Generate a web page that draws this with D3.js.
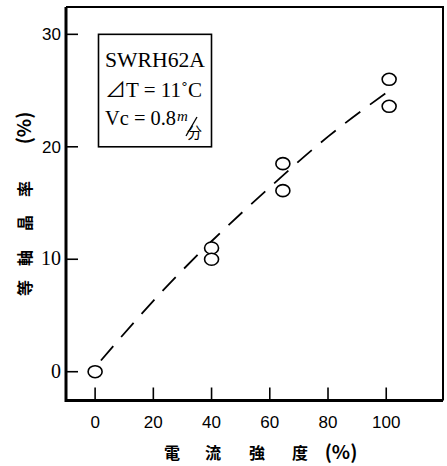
<!DOCTYPE html>
<html>
<head>
<meta charset="utf-8">
<script src="https://cdn.jsdelivr.net/npm/d3@7"></script>
<style>
  html, body { margin: 0; padding: 0; background: #fff; }
  svg { display: block; }
</style>
</head>
<body>
<div id="chart"></div>
<script>
// measured points (電流強度 %, 等軸晶率 %)
var pointX = [0, 40, 40, 64.5, 64.5, 101, 101];
var pointY = [0, 11.0, 10.0, 18.5, 16.1, 26.0, 23.6];

// hand drawn trend line
var curveX = [2, 20, 40, 60, 80, 100];
var curveY = [1, 6.3, 11.6, 16.4, 20.9, 24.8];

var xTicks = [0, 20, 40, 60, 80, 100];
var yTicks = [0, 10, 20, 30];
var xTitle = ["電", "流", "強", "度", "(%)"];
var yTitle = ["等", "軸", "晶", "率", "(%)"];
var noteLines = ["SWRH62A", "⊿T = 11˚C", "Vc = 0.8"];

var width = 447, height = 466;

var x = d3.scaleLinear().domain([-10, 119.5]).range([66, 443]);
var y = d3.scaleLinear().domain([-2.56, 32.43]).range([400.5, 7]);

var svg = d3.select("#chart").append("svg")
    .attr("width", width)
    .attr("height", height);

// frame: thin top/right, heavy left/bottom
svg.append("path")
    .attr("d", "M" + x.range()[0] + "," + y.range()[1] + "H" + x.range()[1] + "V" + y.range()[0])
    .attr("fill", "none")
    .attr("stroke", "#000")
    .attr("stroke-width", 2);

svg.append("path")
    .attr("d", "M" + x.range()[0] + "," + y.range()[1] + "V" + y.range()[0] + "H" + x.range()[1])
    .attr("fill", "none")
    .attr("stroke", "#000")
    .attr("stroke-width", 3);

// y ticks (inward)
var yAxis = svg.append("g");
yAxis.selectAll("line")
    .data(yTicks)
    .enter().append("line")
    .attr("x1", x.range()[0])
    .attr("x2", x.range()[0] + 12)
    .attr("y1", function(d) { return y(d); })
    .attr("y2", function(d) { return y(d); })
    .attr("stroke", "#000")
    .attr("stroke-width", 1.6);

yAxis.selectAll("text")
    .data(yTicks)
    .enter().append("text")
    .attr("x", x.range()[0] - 5)
    .attr("y", function(d) { return y(d) + 6; })
    .attr("text-anchor", "end")
    .style("font-family", function(d) { return d < 20 ? "'Liberation Serif', serif" : "'Liberation Sans', Arial, sans-serif"; })
    .style("font-size", function(d) { return d < 20 ? "20px" : "17px"; })
    .text(function(d) { return d; });

// x ticks (upward)
var xAxis = svg.append("g");
xAxis.selectAll("line")
    .data(xTicks)
    .enter().append("line")
    .attr("x1", function(d) { return x(d); })
    .attr("x2", function(d) { return x(d); })
    .attr("y1", y.range()[0])
    .attr("y2", y.range()[0] - 13)
    .attr("stroke", "#000")
    .attr("stroke-width", 1.6);

xAxis.selectAll("text")
    .data(xTicks)
    .enter().append("text")
    .attr("x", function(d) { return x(d); })
    .attr("y", 428)
    .attr("text-anchor", "middle")
    .style("font-family", "'Liberation Sans', Arial, sans-serif")
    .style("font-size", "17px")
    .text(function(d) { return d; });

// axis titles
var cjk = "'Noto Sans CJK JP', 'Noto Sans CJK SC', sans-serif";
var xTitlePos = [172, 213, 257, 300, 341];
svg.append("g").selectAll("text")
    .data(xTitle)
    .enter().append("text")
    .attr("x", function(d, i) { return xTitlePos[i]; })
    .attr("y", 459)
    .attr("text-anchor", "middle")
    .style("font-family", cjk)
    .style("font-weight", "bold")
    .style("font-size", function(d) { return d.length > 1 ? "19px" : "16px"; })
    .text(function(d) { return d; });

var yTitlePos = [288, 258, 223, 189, 128];
svg.append("g").selectAll("text")
    .data(yTitle)
    .enter().append("text")
    .attr("transform", function(d, i) { return "translate(31," + yTitlePos[i] + ") rotate(-90)"; })
    .attr("text-anchor", "middle")
    .style("font-family", cjk)
    .style("font-weight", "bold")
    .style("font-size", function(d) { return d.length > 1 ? "19px" : "16px"; })
    .text(function(d) { return d; });

// trend curve
var line = d3.line()
    .x(function(d) { return x(d[0]); })
    .y(function(d) { return y(d[1]); })
    .curve(d3.curveNatural);

svg.append("path")
    .datum(d3.zip(curveX, curveY))
    .attr("d", line)
    .attr("fill", "none")
    .attr("stroke", "#000")
    .attr("stroke-width", 1.8)
    .attr("stroke-dasharray", "19,12");

// points
svg.append("g").selectAll("ellipse")
    .data(d3.zip(pointX, pointY))
    .enter().append("ellipse")
    .attr("cx", function(d) { return x(d[0]); })
    .attr("cy", function(d) { return y(d[1]); })
    .attr("rx", 7)
    .attr("ry", 6)
    .attr("fill", "#fff")
    .attr("stroke", "#000")
    .attr("stroke-width", 1.6);

// condition box
var note = svg.append("g");
note.append("rect")
    .attr("x", 98.5)
    .attr("y", y(30))
    .attr("width", 113)
    .attr("height", y(20) - y(30))
    .attr("fill", "#fff")
    .attr("stroke", "#000")
    .attr("stroke-width", 1.6);

var serif = "'Liberation Serif', 'Noto Sans CJK JP', serif";
var noteBase = [66.5, 96.5, 124.5];
note.selectAll("text.line")
    .data(noteLines)
    .enter().append("text")
    .attr("class", "line")
    .attr("x", 105)
    .attr("y", function(d, i) { return noteBase[i]; })
    .style("font-family", serif)
    .style("font-size", "20px")
    .attr("textLength", function(d, i) { return [100, 97, 71][i]; })
    .attr("lengthAdjust", "spacingAndGlyphs")
    .text(function(d) { return d; });

// unit m/分
note.append("text")
    .attr("x", 177)
    .attr("y", 121)
    .style("font-family", serif)
    .style("font-style", "italic")
    .style("font-size", "15px")
    .text("m");
note.append("line")
    .attr("x1", 186).attr("y1", 136)
    .attr("x2", 197).attr("y2", 117)
    .attr("stroke", "#000")
    .attr("stroke-width", 1.3);
note.append("text")
    .attr("x", 187)
    .attr("y", 138)
    .style("font-family", cjk)
    .style("font-size", "15px")
    .text("分");
</script>
</body>
</html>
